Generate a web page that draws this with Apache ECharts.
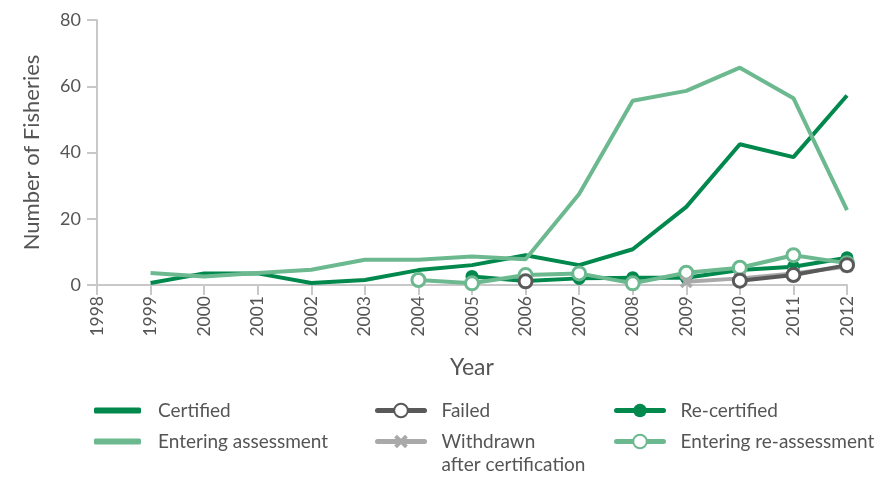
<!DOCTYPE html>
<html><head><meta charset="utf-8">
<script src="https://cdn.jsdelivr.net/npm/echarts@6/dist/echarts.min.js"></script>
<style>html,body{margin:0;padding:0;background:#fff}#c{width:881px;height:477px}</style>
</head><body><div id="c"></div>
<script>
var years = ['1998','1999','2000','2001','2002','2003','2004','2005','2006','2007','2008','2009','2010','2011','2012'];
var certified = [null,0.6,3.5,3.5,0.6,1.5,4.5,6,9,6,10.8,23.6,42.5,38.6,57.2];
var enteringAssessment = [null,3.6,2.6,3.6,4.6,7.6,7.6,8.6,7.8,27.5,55.6,58.6,65.6,56.4,22.6];
var failed = [null,null,null,null,null,null,null,null,1.1,null,null,null,1.3,3,6];
var withdrawn = [null,null,null,null,null,null,null,null,null,null,null,1,2,3.5,5.6];
var recertified = [null,null,null,null,null,null,null,2.6,1.2,2,2.2,2.2,4.5,5.5,8.2];
var enteringReassessment = [null,null,null,null,null,null,1.5,0.5,3,3.5,0.5,3.7,5.2,9,6.6];

var C_DARK = '#00884d', C_LIGHT = '#6cb990', C_GRAY = '#595959', C_LGRAY = '#a9a9a9';
var FONT = 'Lato';
var xPath = 'path://M2,0 L5,3 L8,0 L10,2 L7,5 L10,8 L8,10 L5,7 L2,10 L0,8 L3,5 L0,2 Z';
var WD = 'Withdrawn\nafter certification';

var chart = echarts.init(document.getElementById('c'));
function leg(name, left, top, opts) {
  opts = opts || {};
  var d = {name: name};
  if (opts.icon) d.icon = opts.icon;
  var l = {
    data: [d], left: left, top: top, orient: 'horizontal',
    itemWidth: 47, itemHeight: opts.itemHeight || 17, itemGap: 22, padding: 0,
    textStyle: {color: '#555', fontSize: 19, fontFamily: FONT, padding: [0, 0, 0, 12], lineHeight: 23},
    lineStyle: {width: 5, cap: 'round'},
    selectedMode: false
  };
  if (opts.formatter) l.formatter = opts.formatter;
  return l;
}
chart.setOption({
  animation: false,
  textStyle: {fontFamily: FONT},
  grid: {left: 97, right: 34, top: 20, bottom: 192, containLabel: false},
  legend: [
    leg('Certified', 94, 399, {icon: 'roundRect', itemHeight: 6}),
    leg('Entering assessment', 94, 430, {icon: 'roundRect', itemHeight: 6}),
    leg('Failed', 375, 399),
    leg(WD, 375, 407, {formatter: function () { return ' \nWithdrawn\nafter certification'; }}),
    leg('Re-certified', 614, 399),
    leg('Entering re-assessment', 614, 430)
  ],
  xAxis: {
    type: 'category', data: years, boundaryGap: false,
    name: 'Year', nameLocation: 'middle', nameGap: 71,
    nameTextStyle: {color: '#555', fontSize: 23, fontFamily: FONT},
    axisLine: {lineStyle: {color: '#c8c8c8', width: 2}},
    axisTick: {show: true, length: 10, lineStyle: {color: '#c8c8c8', width: 2}, alignWithLabel: true},
    axisLabel: {rotate: 90, color: '#555', fontSize: 17.5, margin: 11, fontFamily: FONT, interval: 0}
  },
  yAxis: {
    type: 'value', min: 0, max: 80, interval: 20,
    name: 'Number of Fisheries', nameLocation: 'middle', nameGap: 54,
    nameTextStyle: {color: '#555', fontSize: 22, fontFamily: FONT},
    axisLine: {show: true, lineStyle: {color: '#c8c8c8', width: 2}},
    axisTick: {show: true, length: 10, lineStyle: {color: '#c8c8c8', width: 2}},
    splitLine: {show: false},
    axisLabel: {color: '#555', fontSize: 18, margin: 16, fontFamily: FONT}
  },
  series: [
    {name: 'Certified', type: 'line', data: certified, symbol: 'none', z: 2,
     lineStyle: {color: C_DARK, width: 4}, itemStyle: {color: C_DARK}},
    {name: 'Entering assessment', type: 'line', data: enteringAssessment, symbol: 'none', z: 2,
     lineStyle: {color: C_LIGHT, width: 4}, itemStyle: {color: C_LIGHT}},
    {name: 'Re-certified', type: 'line', data: recertified, symbol: 'circle', symbolSize: 13, z: 3,
     lineStyle: {color: C_DARK, width: 4}, itemStyle: {color: C_DARK, borderColor: C_DARK, borderWidth: 0}},
    {name: 'Entering re-assessment', type: 'line', data: enteringReassessment, symbol: 'circle', symbolSize: 13, z: 4,
     lineStyle: {color: C_LIGHT, width: 4}, itemStyle: {color: '#fff', borderColor: C_LIGHT, borderWidth: 3}},
    {name: WD, type: 'line', data: withdrawn, symbol: xPath, symbolSize: 13, z: 5,
     lineStyle: {color: C_LGRAY, width: 4}, itemStyle: {color: C_LGRAY}},
    {name: 'Failed', type: 'line', data: failed, symbol: 'circle', symbolSize: 13, z: 6, connectNulls: false,
     lineStyle: {color: C_GRAY, width: 4}, itemStyle: {color: '#fff', borderColor: C_GRAY, borderWidth: 3}}
  ]
});
</script></body></html>
